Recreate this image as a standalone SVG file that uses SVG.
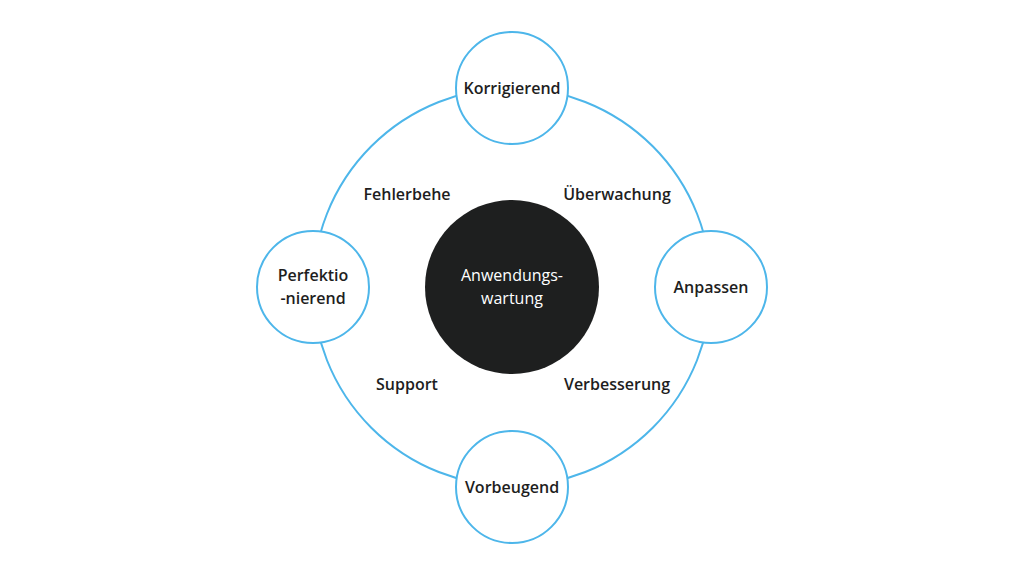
<svg xmlns="http://www.w3.org/2000/svg" width="1024" height="575" viewBox="0 0 1024 575">
<style>
.n{fill:#fff;stroke:#4db6ea;stroke-width:2}
.t{font-family:"Open Sans",sans-serif;font-size:16px;font-weight:600;fill:#1e1e1e;text-anchor:middle}
.w{font-family:"Open Sans",sans-serif;font-size:16px;fill:#fff;text-anchor:middle}
</style>
<rect width="1024" height="575" fill="#fff"/>
<g id="connectors"><circle cx="512" cy="287" r="199" fill="none" stroke="#4db6ea" stroke-width="2"/></g>
<g id="center"><circle cx="512" cy="287" r="87" fill="#1e1f1f"/><text class="w" x="512" y="281">Anwendungs-</text><text class="w" x="512" y="304">wartung</text></g>
<g id="korrigierend"><circle class="n" cx="512" cy="88" r="56"/><text class="t" x="512" y="94">Korrigierend</text></g>
<g id="anpassen"><circle class="n" cx="711" cy="287" r="56"/><text class="t" x="711" y="293">Anpassen</text></g>
<g id="vorbeugend"><circle class="n" cx="512" cy="487" r="56"/><text class="t" x="512" y="493">Vorbeugend</text></g>
<g id="perfektionierend"><circle class="n" cx="313" cy="287" r="56"/><text class="t" x="313" y="281">Perfektio</text><text class="t" x="313" y="304">-nierend</text></g>
<g id="labels">
<text class="t" x="407" y="200">Fehlerbehe</text>
<text class="t" x="617" y="200">Überwachung</text>
<text class="t" x="407" y="390">Support</text>
<text class="t" x="617" y="390">Verbesserung</text>
</g>
</svg>
